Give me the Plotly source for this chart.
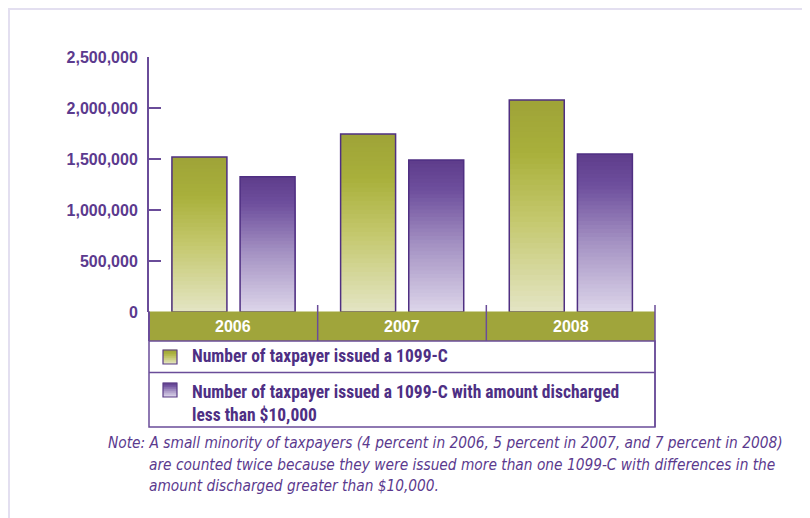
import plotly.graph_objects as go

# ---- data ----
years = ["2006", "2007", "2008"]
issued_1099c = [1520000, 1745000, 2078000]
issued_under_10k = [1325000, 1490000, 1550000]
series_names = [
    "Number of taxpayer issued a 1099-C",
    "Number of taxpayer issued a 1099-C with amount discharged<br>less than $10,000",
]
y_ticks = [0, 500000, 1000000, 1500000, 2000000, 2500000]
note_first = "Note: A small minority of taxpayers (4 percent in 2006, 5 percent in 2007, and 7 percent in 2008)"
note_lines = [
    "are counted twice because they were issued more than one 1099-C with differences in the",
    "amount discharged greater than $10,000.",
]

# ---- style ----
PURPLE = "#5b3a8e"
DARK_PURPLE = "#4e2f84"
AXIS = "#6a4c99"
OLIVE = "#a0a53b"
FRAME = "#e3dff0"
green_stops = [(0.0, "#e4e5c4"), (0.45, "#c3c76b"), (0.75, "#a9b03b"), (1.0, "#9ea338")]
purple_stops = [(0.0, "#ddd6ea"), (0.45, "#a390c2"), (0.8, "#6e4f9d"), (1.0, "#5e3c8b")]
K = 40

OFF = 8                       # page offset of the plot div (body margin)
W, H = 810 - OFF, 518 - OFF
PX_L, PX_R, PX_T, PX_B = 149, 655, 57, 312   # plot area in page pixels
L, R, T, B = PX_L - OFF, W - (PX_R - OFF), PX_T - OFF, H - (PX_B - OFF)
PW, PH = PX_R - PX_L, PX_B - PX_T


def px_x(px):
    return (px - PX_L) / PW


def px_y(py):
    return (PX_B - py) / PH


def hex2rgb(h):
    h = h.lstrip("#")
    return [int(h[i:i + 2], 16) for i in (0, 2, 4)]


def interp(stops, t):
    for (t0, c0), (t1, c1) in zip(stops[:-1], stops[1:]):
        if t0 <= t <= t1:
            f = (t - t0) / (t1 - t0) if t1 > t0 else 0
            a, b = hex2rgb(c0), hex2rgb(c1)
            return "rgb(%d,%d,%d)" % tuple(round(a[i] + (b[i] - a[i]) * f) for i in range(3))
    return stops[-1][1]


fig = go.Figure()

bar_w = 0.326
offsets = [-0.364, 0.040]
for vals, stops, off in [(issued_1099c, green_stops, offsets[0]),
                         (issued_under_10k, purple_stops, offsets[1])]:
    # nested bars from tallest to shortest build a vertical gradient
    for k in range(K):
        frac = 1 - k / K
        fig.add_trace(go.Bar(
            x=years, y=[v * frac for v in vals],
            width=bar_w, offset=off,
            marker=dict(color=interp(stops, 1 - (k + 0.5) / K), line=dict(width=0)),
            showlegend=False, hoverinfo="skip",
        ))
    fig.add_trace(go.Bar(
        x=years, y=vals, width=bar_w, offset=off,
        marker=dict(color="rgba(0,0,0,0)", line=dict(color="#4f2f82", width=1.5)),
        showlegend=False, hovertemplate="%{x}: %{y:,}<extra></extra>",
    ))

shapes = []
# outer frame
shapes.append(dict(type="line", xref="paper", yref="paper", x0=px_x(8), x1=px_x(815),
                   y0=px_y(9), y1=px_y(9), line=dict(color=FRAME, width=2)))
shapes.append(dict(type="line", xref="paper", yref="paper", x0=px_x(9), x1=px_x(9),
                   y0=px_y(8), y1=px_y(525), line=dict(color=FRAME, width=2)))
# category band
band_top, band_bot = px_y(311.5), px_y(341)
leg_mid, leg_bot = px_y(372.5), px_y(427)
shapes.append(dict(type="rect", xref="paper", yref="paper", x0=0, x1=1, y0=band_bot, y1=band_top,
                   fillcolor=OLIVE, line=dict(width=0), layer="above"))
# legend box
shapes.append(dict(type="rect", xref="paper", yref="paper", x0=0, x1=1, y0=leg_bot, y1=band_bot,
                   fillcolor="white", line=dict(color=AXIS, width=1.5)))
shapes.append(dict(type="line", xref="paper", yref="paper", x0=0, x1=1, y0=leg_mid, y1=leg_mid,
                   line=dict(color=AXIS, width=1.5)))
# band left / right edges and dividers
shapes.append(dict(type="line", xref="paper", yref="paper", x0=0, x1=0, y0=band_bot, y1=band_top,
                   line=dict(color=AXIS, width=2)))
shapes.append(dict(type="line", xref="paper", yref="paper", x0=1, x1=1, y0=leg_bot, y1=px_y(305),
                   line=dict(color=AXIS, width=1.5)))
for i in range(1, len(years)):
    shapes.append(dict(type="line", xref="x", yref="paper", x0=i - 0.5, x1=i - 0.5,
                       y0=band_bot, y1=px_y(305), line=dict(color=AXIS, width=1.5)))
# legend markers (small gradient squares)
for (stops, y0, y1) in [(green_stops, 350, 364), (purple_stops, 383, 397)]:
    n = 7
    for j in range(n):
        a = y0 + (y1 - y0) * j / n
        b = y0 + (y1 - y0) * (j + 1) / n
        shapes.append(dict(type="rect", xref="paper", yref="paper", x0=px_x(163), x1=px_x(177),
                           y0=px_y(b), y1=px_y(a - 0.3),
                           fillcolor=interp(stops, 1 - (j + 0.5) / n), line=dict(width=0)))
    shapes.append(dict(type="rect", xref="paper", yref="paper", x0=px_x(163), x1=px_x(177),
                       y0=px_y(y1), y1=px_y(y0), fillcolor="rgba(0,0,0,0)",
                       line=dict(color="#5a3d86", width=1.2)))

annotations = []
for i, yr in enumerate(years):
    annotations.append(dict(x=i, y=(band_top + band_bot) / 2, xref="x", yref="paper",
                            text="<b>%s</b>" % yr, showarrow=False, yanchor="middle",
                            xanchor="center",
                            font=dict(family="Liberation Sans, Arial, sans-serif", size=16,
                                      color="white")))
LEG_FONT = dict(family="Roboto Condensed, Roboto, sans-serif", size=17.5, color=DARK_PURPLE)
annotations.append(dict(x=px_x(190), y=px_y(356), xref="paper", yref="paper",
                        text="<b>%s</b>" % series_names[0], showarrow=False,
                        xanchor="left", yanchor="middle", font=LEG_FONT))
annotations.append(dict(x=px_x(190), y=px_y(379.5), xref="paper", yref="paper",
                        text="<b>%s</b>" % series_names[1].replace("<br>", "</b><br><b>"),
                        showarrow=False, xanchor="left", yanchor="top", align="left",
                        font=LEG_FONT))
NOTE_FONT = dict(family="DejaVu Sans Condensed, Roboto, sans-serif", size=15.3, color=PURPLE)
annotations.append(dict(x=px_x(106), y=px_y(443), xref="paper", yref="paper",
                        text="<i>%s</i>" % note_first, showarrow=False,
                        xanchor="left", yanchor="middle", font=NOTE_FONT))
for i, line in enumerate(note_lines):
    annotations.append(dict(x=px_x(147), y=px_y(465 + 21 * i), xref="paper", yref="paper",
                            text="<i>%s</i>" % line, showarrow=False,
                            xanchor="left", yanchor="middle", font=NOTE_FONT))

fig.update_layout(
    width=W, height=H,
    margin=dict(l=L, r=R, t=T, b=B, pad=0),
    paper_bgcolor="white", plot_bgcolor="white",
    barmode="overlay",
    showlegend=False,
    shapes=shapes, annotations=annotations,
    xaxis=dict(type="category", categoryorder="array", categoryarray=years,
               range=[-0.5, len(years) - 0.5], showticklabels=False, ticks="",
               showgrid=False, zeroline=False, showline=False, fixedrange=True),
    yaxis=dict(range=[0, 2500000], tickmode="array", tickvals=y_ticks,
               ticktext=["<b>%s</b>" % format(v, ",d") for v in y_ticks],
               showgrid=False, zeroline=False, showline=True, linecolor=AXIS, linewidth=2,
               ticks="inside", ticklen=12, tickwidth=2, tickcolor=AXIS,
               ticklabelstandoff=6,
               tickfont=dict(family="Liberation Sans, Arial, sans-serif", size=16, color=PURPLE),
               fixedrange=True),
    font=dict(family="Liberation Sans, Arial, sans-serif"),
)

fig.write_html("out.html")
